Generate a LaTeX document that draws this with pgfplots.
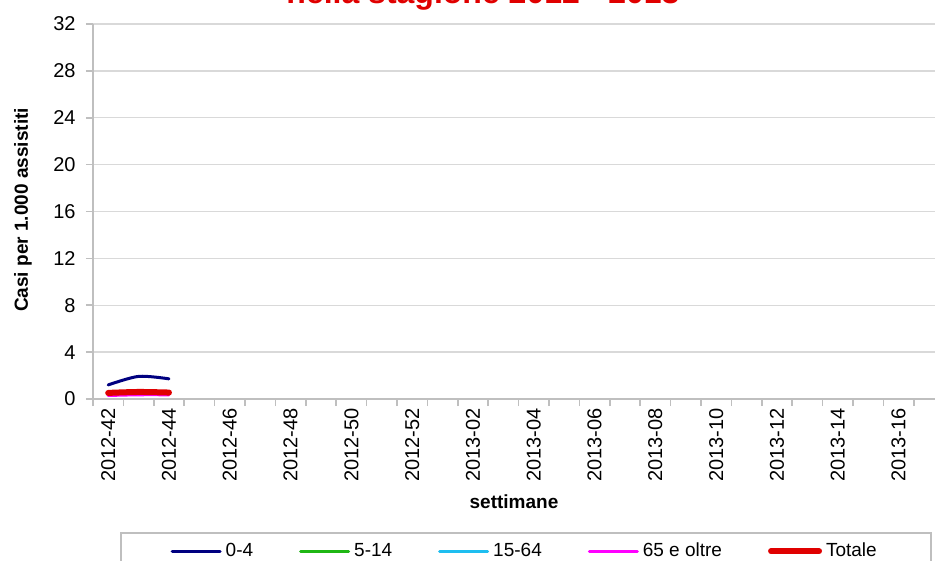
\documentclass[border=0pt]{standalone}
\usepackage{fontspec}
\setmainfont{Liberation Sans}
\usepackage{pgfplots}
\pgfplotsset{compat=1.18}
\definecolor{c04}{HTML}{000080}
\definecolor{c514}{HTML}{1FB714}
\definecolor{c1564}{HTML}{1EBEF0}
\definecolor{c65}{HTML}{FF00FF}
\definecolor{ctot}{HTML}{E00000}
\definecolor{axgray}{HTML}{BFBFBF}
\definecolor{gridgray}{HTML}{D9D9D9}
\begin{document}
\begin{tikzpicture}
\begin{axis}[
  at={(0,0)}, anchor=south west,
  scale only axis, width=421pt, height=187.5pt,
  xmin=-0.5, xmax=27.2, ymin=0, ymax=32,
  axis x line*=bottom, axis y line*=left,
  axis line style={axgray, line width=0.8pt, -},
  ytick={0,4,...,32},
  ymajorgrids, grid style={gridgray, line width=0.7pt},
  xtick={-0.5,0.5,...,26.5},
  xticklabels={},
  extra x ticks={0,2,...,26},
  extra x tick labels={2012-42,2012-44,2012-46,2012-48,2012-50,2012-52,2013-02,2013-04,2013-06,2013-08,2013-10,2013-12,2013-14,2013-16},
  extra x tick style={major tick length=0pt, grid=none},
  tick align=outside,
  major tick length=3.5pt,
  tick style={axgray, line width=0.8pt},
  /pgf/number format/assume math mode=true,
  ticklabel style={font=\fontsize{10}{12}\selectfont, inner sep=0pt},
  xticklabel style={rotate=90, anchor=east},
  xticklabel shift=4.5pt,
  yticklabel shift=5pt,
  xlabel={settimane},
  ylabel={Casi per 1.000 assistiti},
  label style={font=\bfseries\fontsize{9.5}{11}\selectfont},
  xlabel style={at={(axis description cs:0.5,-0.2747)}, anchor=center},
  ylabel style={at={(axis description cs:-0.0831,0.504)}, anchor=center, rotate=0},
  legend columns=5,
  legend style={at={(0.032,-0.3547)}, anchor=north west, draw=axgray, line width=0.8pt,
    font=\fontsize{9.5}{11.5}\selectfont, inner xsep=25pt, inner ysep=3pt,
    /tikz/every even column/.append style={column sep=21pt}},
  legend cell align=left,
  legend image code/.code={\draw[#1] (0pt,0pt) -- (24pt,0pt);},
]
\addplot[c04, line width=1.5pt, smooth, line cap=round] coordinates {(0,1.2) (1,1.93) (2,1.72)};
\addlegendentry{0-4}
\addplot[c514, line width=1.5pt, smooth, line cap=round] coordinates {(0,0.45) (1,0.58) (2,0.58)};
\addlegendentry{5-14}
\addplot[c1564, line width=1.5pt, smooth, line cap=round] coordinates {(0,0.4) (1,0.5) (2,0.5)};
\addlegendentry{15-64}
\addplot[c65, line width=1.5pt, smooth, line cap=round] coordinates {(0,0.3) (1,0.36) (2,0.36)};
\addlegendentry{65 e oltre}
\addplot[ctot, line width=3pt, smooth, line cap=round] coordinates {(0,0.52) (1,0.6) (2,0.55)};
\addlegendentry{Totale}
\end{axis}
\node[anchor=base, inner sep=0pt, text=ctot, font=\bfseries\fontsize{16}{19}\selectfont] at (195pt,197.5pt) {nella stagione 2012 - 2013};
\pgfresetboundingbox
\useasboundingbox (-46.5pt,-81pt) rectangle (421pt,199.5pt);
\end{tikzpicture}
\end{document}
